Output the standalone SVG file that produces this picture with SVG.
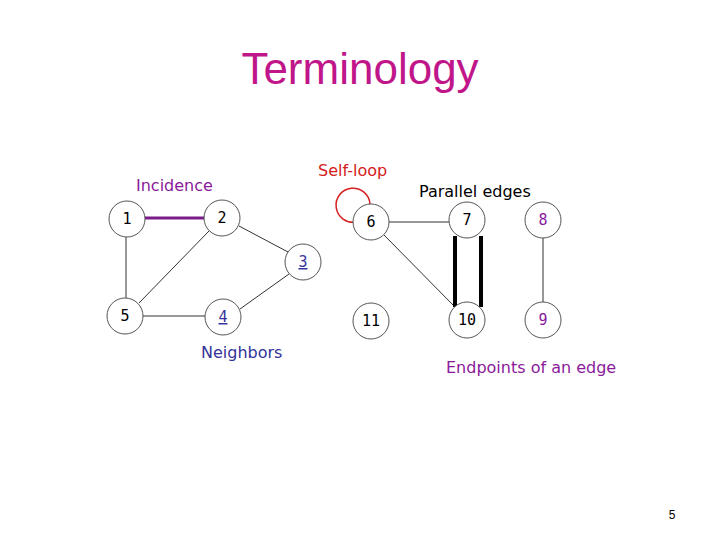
<svg xmlns="http://www.w3.org/2000/svg" width="720" height="540" viewBox="0 0 720 540">
<style>
.n circle{fill:#fff;stroke:#555;stroke-width:1}
.n text{font-family:"DejaVu Sans Mono",monospace;font-size:15px;text-anchor:middle}
.e{stroke:#333;stroke-width:1}
.lbl{font-family:"DejaVu Sans",sans-serif;font-size:16px}
</style>
<rect width="720" height="540" fill="#fff"/>
<text x="360" y="84" font-family="Liberation Sans,sans-serif" font-size="44" fill="#c0168a" text-anchor="middle">Terminology</text>
<g id="connectors">
<line x1="145" y1="218" x2="205" y2="218" stroke="#7b1a8a" stroke-width="3"/>
<line class="e" x1="126" y1="237" x2="126" y2="298"/>
<line class="e" x1="139" y1="303" x2="209" y2="231"/>
<line class="e" x1="239" y1="226" x2="288" y2="252"/>
<line class="e" x1="143" y1="316" x2="205" y2="316"/>
<line class="e" x1="240" y1="309" x2="289" y2="274"/>
<line class="e" x1="389" y1="222" x2="449" y2="222"/>
<line class="e" x1="384" y1="235" x2="455" y2="307"/>
<line x1="455" y1="236" x2="455" y2="307" stroke="#000" stroke-width="4"/>
<line x1="481" y1="236" x2="481" y2="307" stroke="#000" stroke-width="4"/>
<line class="e" x1="543" y1="238" x2="543" y2="302"/>
<path d="M356,222 A17,17 0 1 1 370,204" fill="none" stroke="#d42020" stroke-width="1.5"/>
</g>
<g id="n1" class="n"><circle cx="127" cy="219" r="18"/><text x="127" y="224">1</text></g>
<g id="n2" class="n"><circle cx="222" cy="218" r="18"/><text x="222" y="223">2</text></g>
<g id="n3" class="n"><circle cx="303" cy="262" r="18"/><text x="303" y="267" fill="#33339a" text-decoration="underline">3</text></g>
<g id="n4" class="n"><circle cx="223" cy="317" r="18"/><text x="223" y="322" fill="#33339a" text-decoration="underline">4</text></g>
<g id="n5" class="n"><circle cx="125" cy="316" r="18"/><text x="125" y="321">5</text></g>
<g id="n6" class="n"><circle cx="371" cy="222" r="18"/><text x="371" y="227">6</text></g>
<g id="n7" class="n"><circle cx="467" cy="220" r="18"/><text x="467" y="225">7</text></g>
<g id="n8" class="n"><circle cx="543" cy="220" r="18"/><text x="543" y="225" fill="#8a1a9a">8</text></g>
<g id="n11" class="n"><circle cx="371" cy="321" r="18"/><text x="371" y="326">11</text></g>
<g id="n10" class="n"><circle cx="467" cy="320" r="18"/><text x="467" y="325">10</text></g>
<g id="n9" class="n"><circle cx="543" cy="320" r="18"/><text x="543" y="325" fill="#8a1a9a">9</text></g>
<text class="lbl" x="136" y="191" fill="#8a1a9a">Incidence</text>
<text class="lbl" x="318" y="176" fill="#d42020">Self-loop</text>
<text class="lbl" x="419" y="197" fill="#000">Parallel edges</text>
<text class="lbl" x="201" y="358" fill="#33339a">Neighbors</text>
<text class="lbl" x="446" y="373" fill="#8a1a9a">Endpoints of an edge</text>
<text x="672" y="519" font-family="Liberation Sans,sans-serif" font-size="12" text-anchor="middle">5</text>
</svg>
